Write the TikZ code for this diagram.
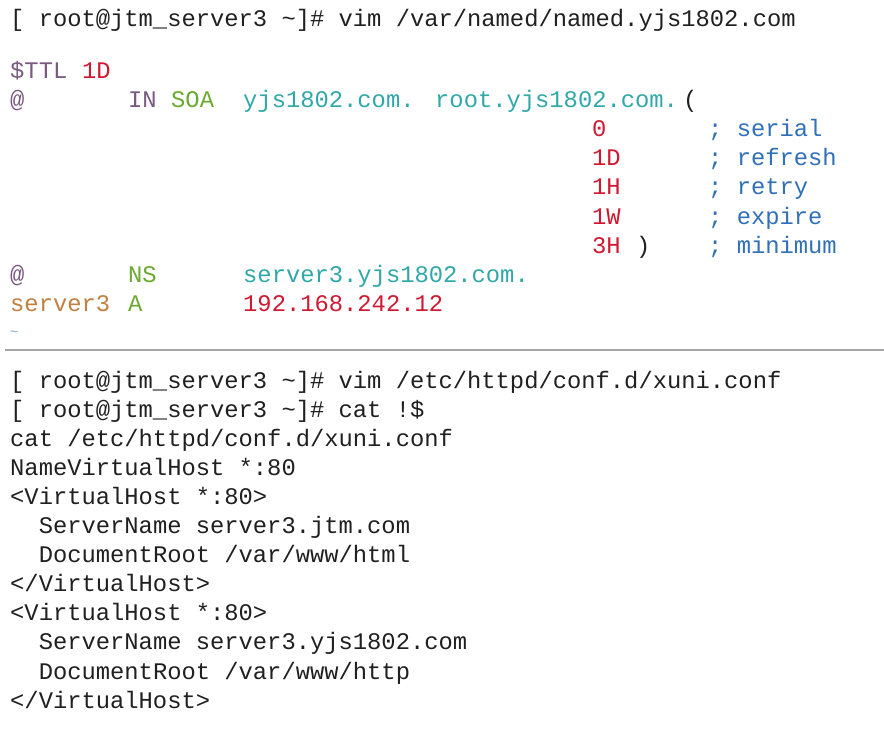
\documentclass[tikz,border=0pt]{standalone}
\usepackage{fontspec}
\setmonofont{Liberation Mono}
\definecolor{pur}{HTML}{7A5A80}
\definecolor{grn}{HTML}{6AAA30}
\definecolor{tea}{HTML}{30A8A8}
\definecolor{rd}{HTML}{D01830}
\definecolor{bl}{HTML}{3070B8}
\definecolor{org}{HTML}{C08040}
\definecolor{txt}{HTML}{202020}
\begin{document}
\begin{tikzpicture}[x=1pt,y=-1pt,
  t/.style={anchor=base west,inner sep=0pt,font=\ttfamily\fontsize{23.8}{24}\selectfont,text=txt}]
\useasboundingbox (0,0) rectangle (884,730);
\fill[white] (0,0) rectangle (884,730);
% top
\node[t] (l1) at (10,27) {[ root@jtm\_server3 \textasciitilde]\# vim /var/named/named.yjs1802.com};
\node[t,text=pur] (ttl) at (10,79) {\$TTL};
\node[t,text=rd] (ttlv) at (82,79) {1D};
\node[t,text=pur] (at1) at (10,108) {@};
\node[t,text=pur] (in) at (128,108) {IN};
\node[t,text=grn] (soa) at (171,108) {SOA};
\node[t,text=tea] (dom) at (243,108) {yjs1802.com.};
\node[t,text=tea] (root) at (435,108) {root.yjs1802.com.};
\node[t] (par) at (683,108) {(};
\node[t,text=rd] (n0) at (592,137) {0};
\node[t,text=rd] (n1) at (592,166) {1D};
\node[t,text=rd] (n2) at (592,195) {1H};
\node[t,text=rd] (n3) at (592,225) {1W};
\node[t,text=rd] (n4) at (592,254) {3H};
\node[t] (cp) at (636,254) {)};
\node[t,text=bl] (c0) at (708,137) {; serial};
\node[t,text=bl] (c1) at (708,166) {; refresh};
\node[t,text=bl] (c2) at (708,195) {; retry};
\node[t,text=bl] (c3) at (708,225) {; expire};
\node[t,text=bl] (c4) at (708,254) {; minimum};
\node[t,text=pur] (at2) at (10,283) {@};
\node[t,text=grn] (ns) at (128,283) {NS};
\node[t,text=tea] (nsv) at (243,283) {server3.yjs1802.com.};
\node[t,text=org] (s3) at (10,312) {server3};
\node[t,text=grn] (a) at (128,312) {A};
\node[t,text=rd] (ip) at (243,312) {192.168.242.12};
\node[t,text=bl!60,font=\ttfamily\fontsize{14}{14}\selectfont] (tl) at (10,336) {\textasciitilde};
\draw[gray!70,line width=1.2pt] (5,350) -- (884,350);
% bottom
\node[t] (b1) at (10,388) {[ root@jtm\_server3 \textasciitilde]\# vim /etc/httpd/conf.d/xuni.conf};
\node[t] (b2) at (10,417) {[ root@jtm\_server3 \textasciitilde]\# cat !\$};
\node[t] (b3) at (10,446) {cat /etc/httpd/conf.d/xuni.conf};
\node[t] (b4) at (10,475) {NameVirtualHost *:80};
\node[t] (b5) at (10,504) {<VirtualHost *:80>};
\node[t] (b6) at (10,533) {\ \ ServerName server3.jtm.com};
\node[t] (b7) at (10,562) {\ \ DocumentRoot /var/www/html};
\node[t] (b8) at (10,591) {</VirtualHost>};
\node[t] (b9) at (10,620) {<VirtualHost *:80>};
\node[t] (b10) at (10,649) {\ \ ServerName server3.yjs1802.com};
\node[t] (b11) at (10,679) {\ \ DocumentRoot /var/www/http};
\node[t] (b12) at (10,708) {</VirtualHost>};
\end{tikzpicture}
\end{document}
